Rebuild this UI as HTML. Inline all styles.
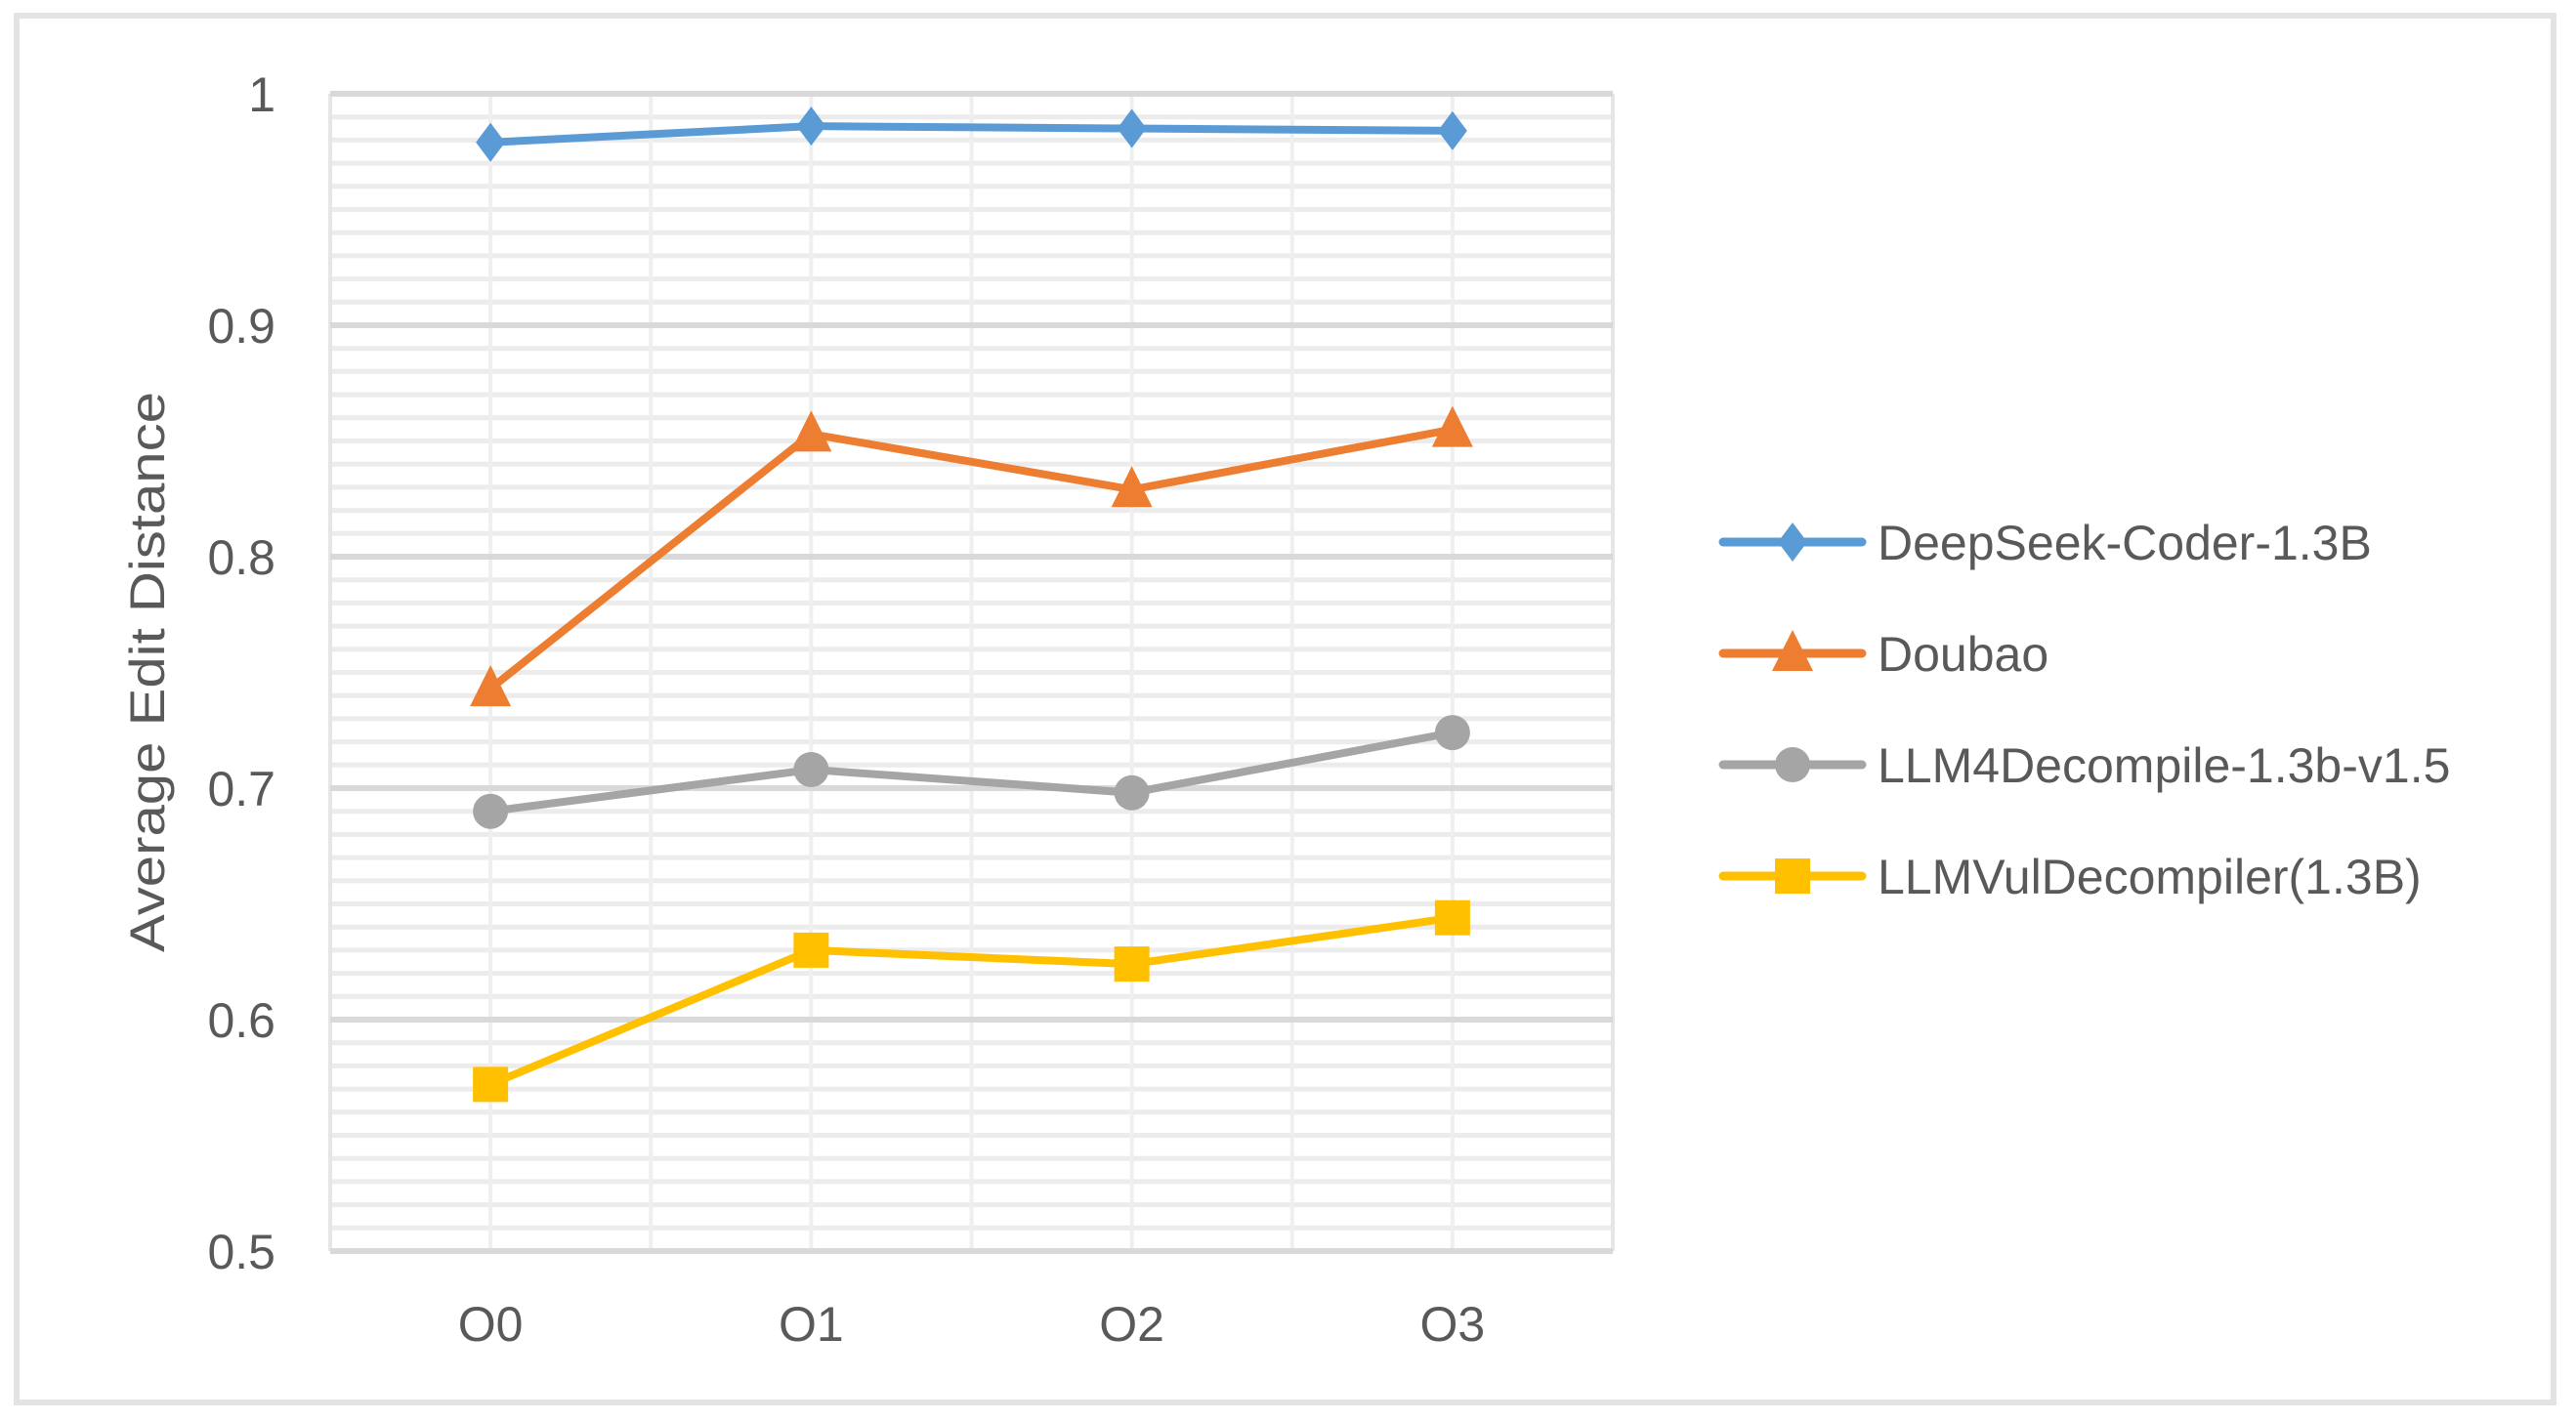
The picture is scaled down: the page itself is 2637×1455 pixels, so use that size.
<!DOCTYPE html>
<html><head><meta charset="utf-8"><style>
html,body{margin:0;padding:0;background:#fff;}
svg{display:block;font-family:"Liberation Sans",sans-serif;}
</style></head><body>
<svg id="chart" width="2637" height="1455" viewBox="0 0 2637 1455" xmlns="http://www.w3.org/2000/svg">
<rect x="17" y="16" width="2597" height="1420" fill="#fff" stroke="#e3e3e3" stroke-width="6"/>
<g id="grid"></g>
<g id="axes"></g>
<g id="series"></g>
<g id="legend"></g>
<text transform="translate(168,688) rotate(-90)" text-anchor="middle" font-size="50" fill="#595959" textLength="574" lengthAdjust="spacingAndGlyphs">Average Edit Distance</text>
</svg>
<script>
const categories = ["O0","O1","O2","O3"];
const seriesNames = ["DeepSeek-Coder-1.3B","Doubao","LLM4Decompile-1.3b-v1.5","LLMVulDecompiler(1.3B)"];
const deepseekValues = [0.979,0.986,0.985,0.984];
const doubaoValues = [0.743,0.853,0.829,0.855];
const llm4Values = [0.690,0.708,0.698,0.724];
const llmvulValues = [0.572,0.630,0.624,0.644];
const yTicks = [0.5,0.6,0.7,0.8,0.9,1];
const yTickLabels = ["0.5","0.6","0.7","0.8","0.9","1"];

const NS="http://www.w3.org/2000/svg";
const L=338,R=1651,T=96,B=1281,yMin=0.5,yMax=1.0;
function xPos(i){return L+(R-L)/categories.length*(i+0.5);}
function yPos(v){return B-(v-yMin)/(yMax-yMin)*(B-T);}
function mk(tag,attrs,parent){const e=document.createElementNS(NS,tag);for(const k in attrs)e.setAttribute(k,attrs[k]);parent.appendChild(e);return e;}
const grid=document.getElementById('grid'),axes=document.getElementById('axes'),ser=document.getElementById('series'),leg=document.getElementById('legend');

// minor horizontal gridlines
for(let k=1;k<50;k++){
  if(k%10===0)continue;
  const v=yMin+k*0.01;
  const ln=mk('line',{x1:L,x2:R,y1:yPos(v),y2:yPos(v),stroke:'#ececec','stroke-width':5},grid);
  
  
}
// vertical gridlines
for(let k=0;k<=categories.length*2;k++){
  const x=L+(R-L)/(categories.length*2)*k;
  const ln=mk('line',{x1:x,x2:x,y1:T,y2:B,stroke:(k===0||k===8)?'#e6e6e6':'#efefef','stroke-width':4},grid);
  
  
}
// major
yTicks.forEach((v,i)=>{
  const ln=mk('line',{x1:L,x2:R,y1:yPos(v),y2:yPos(v),stroke:'#d9d9d9','stroke-width':6},grid);
  
  
  const t=mk('text',{x:282,y:yPos(v)+18,'text-anchor':'end','font-size':50,fill:'#595959'},axes);
  t.textContent=yTickLabels[i];
  
  
});
categories.forEach((c,i)=>{
  const t=mk('text',{x:xPos(i),y:1373,'text-anchor':'middle','font-size':50,fill:'#595959'},axes);
  t.textContent=c;
  
  
});

const colors=['#5b9bd5','#ed7d31','#a5a5a5','#ffc000'];
const data=[deepseekValues,doubaoValues,llm4Values,llmvulValues];
const shapes=['diamond','triangle','circle','square'];
function marker(shape,x,y,c,parent){
  let e;
  if(shape==='diamond')e=mk('polygon',{points:`${x},${y-20} ${x+15},${y} ${x},${y+20} ${x-15},${y}`,fill:c},parent);
  else if(shape==='triangle')e=mk('polygon',{points:`${x},${y-24} ${x+21},${y+18} ${x-21},${y+18}`,fill:c},parent);
  else if(shape==='circle')e=mk('ellipse',{cx:x,cy:y,rx:18,ry:18,fill:c},parent);
  else e=mk('rect',{x:x-18,y:y-18,width:36,height:36,fill:c},parent);
  return e;
}
data.forEach((vals,s)=>{
  const g=mk('g',{},ser);
  
  
  const pl=mk('polyline',{points:vals.map((v,i)=>xPos(i)+','+yPos(v)).join(' '),fill:'none',stroke:colors[s],'stroke-width':8,'stroke-linejoin':'round','stroke-linecap':'round'},g);
  
  
  vals.forEach((v,i)=>{
    const m=marker(shapes[s],xPos(i),yPos(v),colors[s],g);
    
    
  });
  const ly=555+s*114;
  const lg=mk('g',{},leg);
  
  
  mk('line',{x1:1764,x2:1906,y1:ly,y2:ly,stroke:colors[s],'stroke-width':9,'stroke-linecap':'round'},lg);
  marker(shapes[s],1835,ly,colors[s],lg);
  const t=mk('text',{x:1922,y:ly+18,'font-size':50,fill:'#595959'},lg);
  t.textContent=seriesNames[s];
});
</script>
</body></html>
